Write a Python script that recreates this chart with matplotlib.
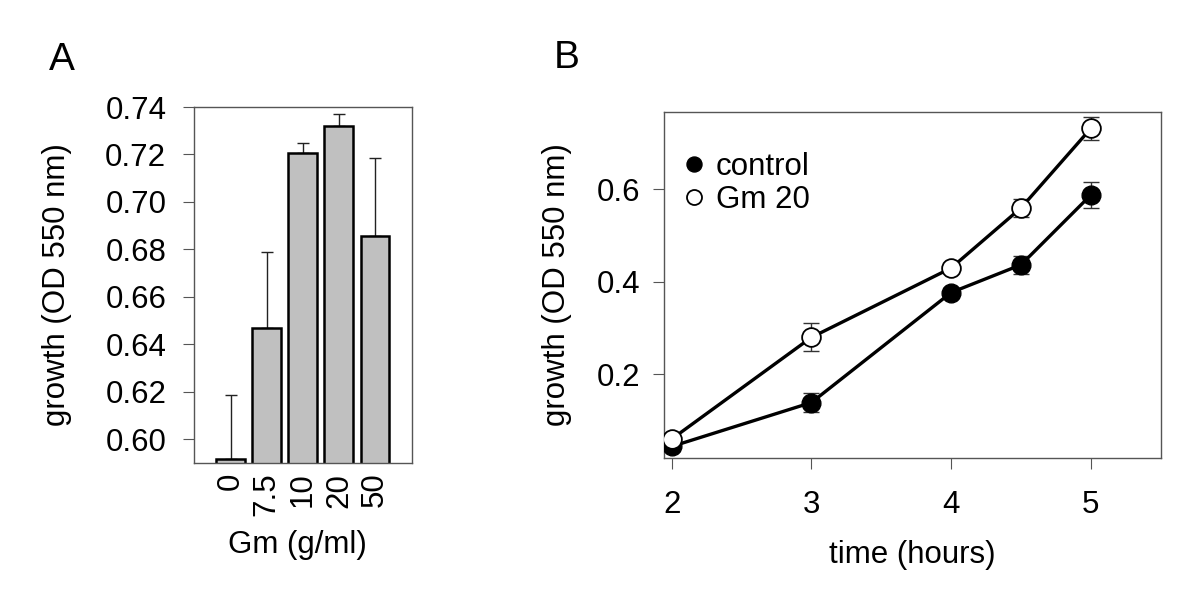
import matplotlib
matplotlib.use("Agg")
import matplotlib.pyplot as plt

plt.rcParams['font.family'] = ['Liberation Sans', 'DejaVu Sans']

# Painel A: crescimento por concentração de Gm
doses = ['0', '7.5', '10', '20', '50']
growth_a = [0.5916, 0.647, 0.7205, 0.7321, 0.6857]
err_a = [0.027, 0.032, 0.0043, 0.0049, 0.033]

# Painel B: curva de crescimento
hours = [2, 3, 4, 4.5, 5]
control = [0.044, 0.139, 0.377, 0.437, 0.588]
control_err = [0.01, 0.02, 0.01, 0.02, 0.028]
gm20 = [0.06, 0.28, 0.43, 0.56, 0.732]
gm20_err = [0.01, 0.03, 0.01, 0.02, 0.025]

FS = 22.5
spine_col = '#555555'

fig = plt.figure(figsize=(12, 6.08), dpi=100)

# ---- Painel A ----
axA = fig.add_axes([0.1617, 0.2385, 0.1814, 0.5855])
pos = list(range(len(doses)))
axA.bar(pos, [g - 0.5 for g in growth_a], bottom=0.5, width=0.8,
        color='#c0c0c0', edgecolor='black', linewidth=1.8, zorder=2)
axA.errorbar(pos, growth_a, yerr=[[0] * len(err_a), err_a], fmt='none',
             ecolor='#222222', elinewidth=1, capsize=4.3, capthick=1, zorder=1)
axA.set_xlim(-1.01, 5.016)
axA.set_ylim(0.5899, 0.74)
axA.set_yticks([0.60, 0.62, 0.64, 0.66, 0.68, 0.70, 0.72, 0.74])
axA.set_yticklabels(['%.2f' % v for v in axA.get_yticks()])
axA.set_xticks(pos)
axA.set_xticklabels(doses, rotation=90, va='top', ha='center')
axA.tick_params(axis='x', length=0, pad=7, labelsize=FS)
axA.tick_params(axis='y', length=8, pad=12, labelsize=FS, color=spine_col)
for s in axA.spines.values():
    s.set_color(spine_col)
    s.set_linewidth(1)
axA.set_ylabel('growth (OD 550 nm)', fontsize=FS)
axA.yaxis.set_label_coords(-0.629, 0.5)
axA.yaxis.label.set_verticalalignment('center')
axA.set_xlabel('Gm (g/ml)', fontsize=FS)
axA.xaxis.set_label_coords(0.473, -0.23)
axA.xaxis.label.set_verticalalignment('center')

# ---- Painel B ----
axB = fig.add_axes([0.5531, 0.2472, 0.4142, 0.569])
axB.errorbar(hours, control, yerr=control_err, fmt='none', ecolor='#333333',
             elinewidth=1, capsize=5.5, capthick=1, zorder=1)
axB.errorbar(hours, gm20, yerr=gm20_err, fmt='none', ecolor='#333333',
             elinewidth=1, capsize=5.5, capthick=1, zorder=1)
axB.plot(hours, control, '-', color='black', linewidth=2.4, zorder=2)
axB.plot(hours, control, 'o', color='black', markersize=13.5,
         markeredgecolor='black', label='control', zorder=3)
axB.plot(hours, gm20, '-', color='black', linewidth=2.4, zorder=4)
axB.plot(hours, gm20, 'o', markerfacecolor='white', markersize=13.5,
         markeredgecolor='black', markeredgewidth=1.3, label='Gm 20', zorder=5)
axB.set_xlim(1.943, 5.5)
axB.set_ylim(0.0197, 0.768)
axB.set_xticks([2, 3, 4, 5])
axB.set_yticks([0.2, 0.4, 0.6])
axB.tick_params(axis='both', length=8, labelsize=FS, color=spine_col)
axB.tick_params(axis='x', pad=15)
axB.tick_params(axis='y', pad=9)
for s in axB.spines.values():
    s.set_color(spine_col)
    s.set_linewidth(1)
axB.set_xlabel('time (hours)', fontsize=FS)
axB.xaxis.set_label_coords(0.5, -0.281)
axB.xaxis.label.set_verticalalignment('center')
axB.set_ylabel('growth (OD 550 nm)', fontsize=FS)
axB.yaxis.set_label_coords(-0.2148, 0.5)
axB.yaxis.label.set_verticalalignment('center')
axB.legend(loc='upper left', bbox_to_anchor=(0.0297, 0.8835), frameon=False,
           fontsize=FS, handlelength=1, handletextpad=0.2, borderpad=0,
           borderaxespad=0, labelspacing=0.1, markerscale=0.8)

fig.text(62 / 1200, 1 - 60 / 608, 'A', fontsize=28, ha='center', va='center')
fig.text(567 / 1200, 1 - 58 / 608, 'B', fontsize=28, ha='center', va='center')

fig.savefig('out.png', dpi=100)
